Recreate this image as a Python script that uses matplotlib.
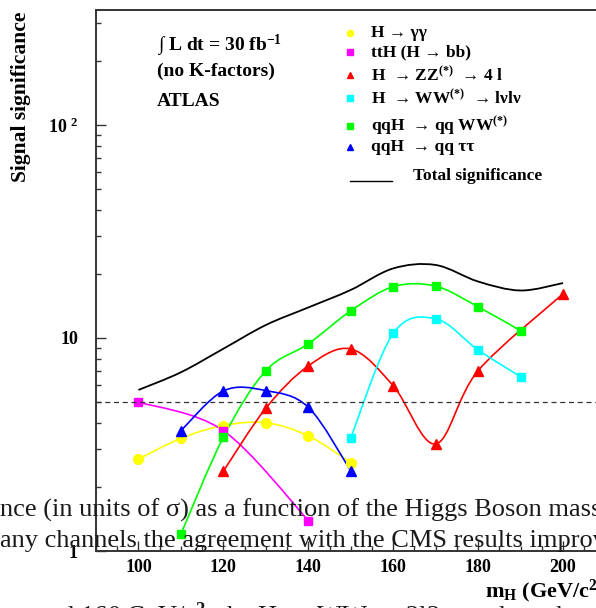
import numpy as np
import matplotlib
matplotlib.use('Agg')
import matplotlib.pyplot as plt
from matplotlib.path import Path
from matplotlib.patches import PathPatch
from matplotlib.lines import Line2D
from matplotlib.ticker import MultipleLocator, LogLocator, NullFormatter

# 글꼴 (Times 계열)
plt.rcParams['font.family'] = ['Liberation Serif', 'DejaVu Serif']
plt.rcParams['mathtext.fontset'] = 'custom'
plt.rcParams['mathtext.rm'] = 'Liberation Serif:bold'
plt.rcParams['mathtext.bf'] = 'Liberation Serif:bold'
plt.rcParams['mathtext.it'] = 'Liberation Serif:bold:italic'
plt.rcParams['mathtext.default'] = 'rm'

# 데이터 (m_H, GeV)
gg_x = [100, 110, 120, 130, 140, 150]
gg = [2.70, 3.38, 3.88, 4.00, 3.47, 2.60]
tth_x = [100, 120, 140]
tth = [5.0, 3.67, 1.39]
zz_x = [120, 130, 140, 150, 160, 170, 180, 200]
zz = [2.37, 4.68, 7.39, 8.88, 5.97, 3.18, 7.02, 16.1]
ww_x = [150, 160, 170, 180, 190]
ww = [3.40, 10.5, 12.3, 8.78, 6.58]
qqww_x = [110, 120, 130, 140, 150, 160, 170, 180, 190]
qqww = [1.20, 3.42, 7.02, 9.38, 13.4, 17.4, 17.5, 14.0, 10.8]
qqtt_x = [110, 120, 130, 140, 150]
qqtt = [3.67, 5.64, 5.66, 4.73, 2.38]
total_x = [100, 110, 120, 130, 140, 150, 160, 170, 180, 190, 200]
total = [5.7, 6.9, 8.9, 11.5, 13.9, 16.8, 21.2, 22.0, 18.4, 16.7, 18.1]
discovery = 5

W, H = 596, 608
fx = lambda x: x / W
fy = lambda y: 1 - y / H


def smooth_path(xs, ys):
    # ROOT "C" 옵션처럼 점을 지나는 부드러운 곡선 (log y 공간에서)
    px = np.asarray(xs, float)
    py = np.log10(np.asarray(ys, float))
    n = len(px)
    verts = [(px[0], py[0])]
    codes = [Path.MOVETO]
    for i in range(n - 1):
        i0 = max(i - 1, 0)
        i3 = min(i + 2, n - 1)
        c1 = (px[i] + (px[i + 1] - px[i0]) / 6, py[i] + (py[i + 1] - py[i0]) / 6)
        c2 = (px[i + 1] - (px[i3] - px[i]) / 6, py[i + 1] - (py[i3] - py[i]) / 6)
        verts += [c1, c2, (px[i + 1], py[i + 1])]
        codes += [Path.CURVE4] * 3
    v = np.array(verts)
    v[:, 1] = 10 ** v[:, 1]
    return Path(v, codes)


fig = plt.figure(figsize=(W / 100, H / 100), dpi=100)
ax = fig.add_axes([fx(96), fy(551), (605.5 - 96) / W, (551 - 9.5) / H])
ax.set_yscale('log')
ax.set_xlim(90, 210)
ax.set_ylim(1, 348)

series = [
    (gg_x, gg, '#ffff00', 'o', 7.0),
    (tth_x, tth, '#ff00ff', 's', 6.0),
    (zz_x, zz, '#ff0000', '^', 7.0),
    (ww_x, ww, '#00ffff', 's', 6.0),
    (qqww_x, qqww, '#00ff00', 's', 6.0),
    (qqtt_x, qqtt, '#0000ff', '^', 7.0),
]
for xs, ys, c, m, ms in series:
    ax.add_patch(PathPatch(smooth_path(xs, ys), fill=False, ec=c, lw=1.2))
    ax.plot(xs, ys, ls='none', marker=m, ms=ms, color=c, mec=c)

ax.add_patch(PathPatch(smooth_path(total_x, total), fill=False, ec='black', lw=1.3))
ax.axhline(discovery, color='#333333', lw=0.9, ls=(0, (4, 3)))

# 축 스타일
for s in ax.spines.values():
    s.set_linewidth(1.4)
    s.set_color('#333333')
ax.xaxis.set_major_locator(MultipleLocator(20))
ax.xaxis.set_minor_locator(MultipleLocator(5))
ax.yaxis.set_major_locator(LogLocator(base=10))
ax.yaxis.set_minor_locator(LogLocator(base=10, subs=np.arange(2, 10)))
ax.yaxis.set_minor_formatter(NullFormatter())
ax.set_xticks([100, 120, 140, 160, 180, 200])
ax.set_yticks([1, 10, 100], labels=['1', '10', '10 $^{2}$'])
ax.tick_params(which='both', direction='in', color='#333333', width=1.0,
               top=False, right=False, labelsize=13)
ax.tick_params(which='major', length=7)
ax.tick_params(which='minor', length=3.5)
ax.tick_params(axis='y', pad=13)
ax.tick_params(axis='x', pad=6)
for lab in ax.get_xticklabels() + ax.get_yticklabels():
    lab.set_fontweight('bold')

# 축 제목
fig.text(fx(21), fy(97), 'Signal significance', rotation=90, ha='center', va='center',
         fontsize=15.5, fontweight='bold')
fig.text(fx(485), fy(597), 'm$_{H}$ (GeV/c$^{2}$)', ha='left', va='baseline',
         fontsize=16, fontweight='bold')

# 주석
fig.text(fx(157), fy(46), '\u222b L dt = 30 fb$^{-1}$', ha='left', va='center',
         fontsize=14, fontweight='bold')
fig.text(fx(157), fy(71), '(no K-factors)', ha='left', va='center',
         fontsize=14, fontweight='bold')
fig.text(fx(157), fy(102), 'ATLAS', ha='left', va='center',
         fontsize=14, fontweight='bold')

# 범례 (수동 배치)
leg_rows = [
    (33, 'o', '#ffff00', 'H \u2192 \u03b3\u03b3'),
    (52, 's', '#ff00ff', 'ttH (H \u2192 bb)'),
    (75, '^', '#ff0000', 'H  \u2192 ZZ$^{(*)}$  \u2192 4 l'),
    (98, 's', '#00ffff', 'H  \u2192 WW$^{(*)}$  \u2192 l\u03bdl\u03bd'),
    (126, 's', '#00ff00', 'qqH  \u2192 qq WW$^{(*)}$'),
    (147, '^', '#0000ff', 'qqH  \u2192 qq \u03c4\u03c4'),
]
for y, m, c, txt in leg_rows:
    fig.add_artist(Line2D([fx(350)], [fy(y)], marker=m, ms=4.5, color=c, ls='none',
                          transform=fig.transFigure))
    fig.text(fx(371), fy(y), txt, ha='left', va='center', fontsize=12.5, fontweight='bold')
fig.add_artist(Line2D([fx(350), fx(392)], [fy(181), fy(181)], color='black', lw=1.0,
                      transform=fig.transFigure))
fig.text(fx(413), fy(176), 'Total significance', ha='left', va='center',
         fontsize=12.5, fontweight='bold')

# 겹쳐 보이는 본문 텍스트
body = dict(ha='left', va='baseline', fontsize=19, color='#1a1a1a')
fig.text(fx(0), fy(517), 'nce (in units of \u03c3) as a function of the Higgs Boson mass', **body)
fig.text(fx(0), fy(547), 'any channels the agreement with the CMS results improv', **body)
fig.text(fx(36), fy(623), 'and 160 GeV/c$^2$, the H \u2192 WW \u2192 2l2\u03bd mode makes it', **body)

fig.savefig('out.png', dpi=100)
